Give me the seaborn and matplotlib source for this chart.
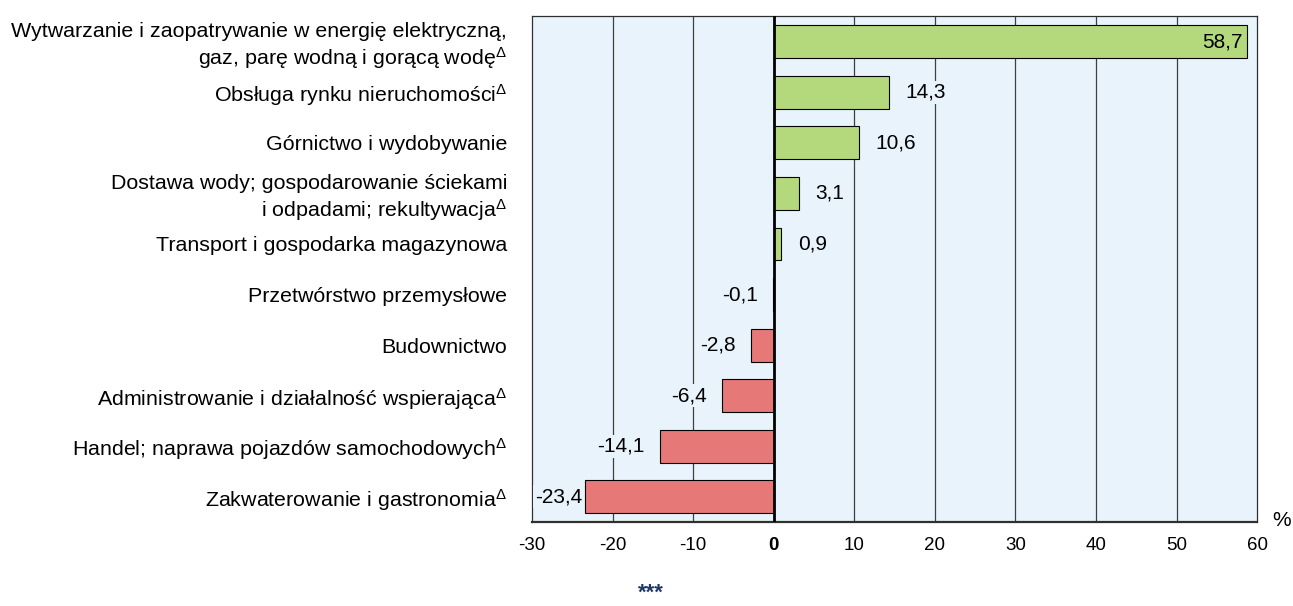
import matplotlib
matplotlib.use("Agg")
import matplotlib.pyplot as plt
import seaborn as sns

# data
categories = [
    "Wytwarzanie i zaopatrywanie w energię elektryczną,\ngaz, parę wodną i gorącą wodę$^{\\Delta}$",
    "Obsługa rynku nieruchomości$^{\\Delta}$",
    "Górnictwo i wydobywanie",
    "Dostawa wody; gospodarowanie ściekami\ni odpadami; rekultywacja$^{\\Delta}$",
    "Transport i gospodarka magazynowa",
    "Przetwórstwo przemysłowe",
    "Budownictwo",
    "Administrowanie i działalność wspierająca$^{\\Delta}$",
    "Handel; naprawa pojazdów samochodowych$^{\\Delta}$",
    "Zakwaterowanie i gastronomia$^{\\Delta}$",
]
values = [58.7, 14.3, 10.6, 3.1, 0.9, -0.1, -2.8, -6.4, -14.1, -23.4]
xticks = [-30, -20, -10, 0, 10, 20, 30, 40, 50, 60]

green = "#b3d97c"
red = "#e67878"
bg = "#e8f3fb"
colors = [green if v > 0 else red for v in values]

sns.set_style("white")
plt.rcParams['font.family'] = ['Liberation Sans', 'DejaVu Sans']
plt.rcParams['mathtext.fontset'] = 'custom'
plt.rcParams['mathtext.rm'] = 'Liberation Sans'
plt.rcParams['mathtext.it'] = 'Liberation Sans'
plt.rcParams['text.color'] = 'black'
plt.rcParams['xtick.color'] = 'black'
plt.rcParams['ytick.color'] = 'black'

fs = 15

fig = plt.figure(figsize=(12.93, 6.06), dpi=100)
ax = fig.add_axes([0.4115, 0.1386, 0.5607, 0.8342])
ax.set_facecolor(bg)

sns.barplot(x=values, y=categories, hue=categories, palette=colors, legend=False,
            orient='h', width=0.65, saturation=1, edgecolor='black', linewidth=0.8,
            ax=ax, zorder=3)

ax.set_xlim(-30, 60)
ax.set_ylim(9.5, -0.5)
ax.set_xticks(xticks)
ax.set_xticklabels([str(t) for t in xticks], fontsize=13.5)
for lab in ax.get_xticklabels():
    if lab.get_text() == '0':
        lab.set_fontweight('bold')
ax.tick_params(axis='both', length=0)
ax.tick_params(axis='y', pad=18, labelsize=15.4)
ax.tick_params(axis='x', pad=11)
for t in xticks[1:-1]:
    if t != 0:
        ax.axvline(t, color='#404040', lw=0.9, zorder=1)
ax.axvline(0, color='black', lw=2, zorder=4)
for s in ax.spines.values():
    s.set_color('#303030')
    s.set_linewidth(0.9)
ax.spines['bottom'].set_linewidth(1.6)
ax.set_xlabel('')
ax.set_ylabel('')

box = dict(facecolor=bg, edgecolor='none', pad=1.5)
for i, v in enumerate(values):
    txt = f"{v:.1f}".replace('.', ',')
    if v > 50:
        ax.annotate(txt, (v, i), xytext=(-3, 0), textcoords='offset points',
                    ha='right', va='center', fontsize=fs, zorder=5)
    elif v > 0:
        ax.annotate(txt, (v, i), xytext=(12, 0), textcoords='offset points',
                    ha='left', va='center', fontsize=fs, zorder=5, bbox=box)
    elif v < -20:
        # label would not fit outside, so it sits at the left edge of the plot
        ax.annotate(txt, (-30, i), xytext=(2, 0), textcoords='offset points',
                    ha='left', va='center', fontsize=fs, zorder=5, bbox=box)
    else:
        ax.annotate(txt, (v, i), xytext=(-11, 0), textcoords='offset points',
                    ha='right', va='center', fontsize=fs, zorder=5, bbox=box)

fig.text(1282 / 1293, 1 - 520 / 606, '%', ha='center', va='center', fontsize=15)
fig.text(651 / 1293, 1 - 593 / 606, '***', ha='center', va='center', fontsize=16,
         fontweight='bold', color='#1f3864')

fig.savefig('out.png', dpi=100)
